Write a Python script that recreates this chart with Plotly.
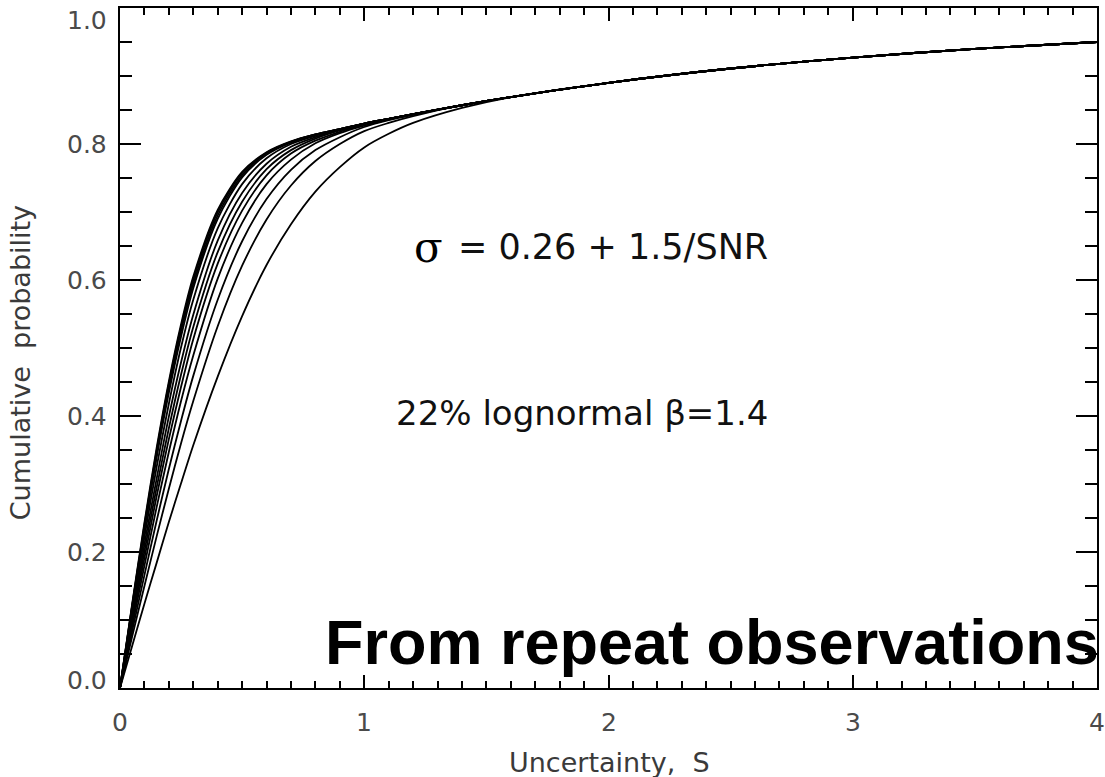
import plotly.graph_objects as go

# Uncertainty grid (S) for the low part of each curve, where the curves differ
s_head = [0, 0.05, 0.1, 0.15, 0.2, 0.25, 0.3, 0.4, 0.5, 0.6, 0.7, 0.8, 0.9, 1.0, 1.1, 1.2, 1.4]
# Shared upper part, where all curves merge into the lognormal tail
s_tail = [1.6, 2.0, 2.5, 3.0, 3.5, 4.0]
p_tail = [0.869, 0.890, 0.911, 0.927, 0.940, 0.950]

# Cumulative probability of each curve on s_head (narrowest to widest)
curve_01 = [0, .124, .243, .353, .451, .535, .605, .703, .759, .788, .804, .814, .822, .830, .837, .844, .857]
curve_02 = [0, .122, .240, .349, .447, .531, .600, .700, .757, .787, .803, .814, .822, .830, .837, .844, .857]
curve_03 = [0, .121, .236, .344, .441, .525, .594, .695, .754, .786, .803, .814, .822, .830, .837, .844, .857]
curve_04 = [0, .118, .232, .339, .434, .517, .588, .690, .751, .784, .802, .813, .822, .830, .837, .844, .857]
curve_05 = [0, .113, .222, .325, .418, .501, .571, .676, .741, .779, .800, .812, .821, .830, .837, .844, .857]
curve_06 = [0, .107, .211, .308, .399, .479, .549, .658, .728, .771, .796, .810, .821, .830, .837, .844, .857]
curve_07 = [0, .102, .201, .295, .382, .461, .531, .641, .715, .763, .791, .808, .820, .829, .837, .844, .857]
curve_08 = [0, .097, .191, .282, .366, .443, .513, .624, .702, .754, .786, .805, .818, .829, .837, .844, .857]
curve_09 = [0, .091, .180, .266, .347, .422, .489, .602, .684, .741, .777, .801, .816, .827, .836, .844, .857]
curve_10 = [0, .084, .166, .246, .322, .393, .459, .571, .657, .719, .762, .791, .810, .825, .835, .843, .857]
curve_11 = [0, .076, .150, .223, .293, .360, .422, .532, .621, .689, .739, .775, .800, .819, .831, .841, .857]
curve_12 = [0, .062, .124, .184, .244, .301, .357, .458, .547, .622, .682, .730, .766, .795, .815, .831, .853]

curves = [curve_01, curve_02, curve_03, curve_04, curve_05, curve_06,
          curve_07, curve_08, curve_09, curve_10, curve_11, curve_12]

x_ticks = [0, 1, 2, 3, 4]
y_ticks = [0.0, 0.2, 0.4, 0.6, 0.8, 1.0]

fig = go.Figure()
for c in curves:
    fig.add_trace(go.Scatter(
        x=s_head + s_tail, y=c + p_tail, mode="lines",
        line=dict(color="black", width=1.8, shape="spline", smoothing=0.8),
        showlegend=False, hoverinfo="skip"))

tick_font = dict(family="DejaVu Sans", size=25, color="#4a4a4a")
title_font = dict(family="DejaVu Sans", size=27, color="#3a3a3a")

fig.update_layout(
    xaxis=dict(range=[0, 4], tickvals=x_ticks,
               ticks="inside", ticklen=13, tickwidth=1.5, tickcolor="black",
               minor=dict(dtick=0.1, ticks="inside", ticklen=7, tickwidth=1.5,
                          tickcolor="black"),
               showline=True, linecolor="black", linewidth=2, mirror="ticks",
               showgrid=False, zeroline=False, showticklabels=False),
    yaxis=dict(range=[0, 1], tickvals=y_ticks,
               ticks="inside", ticklen=21, tickwidth=1.5, tickcolor="black",
               minor=dict(dtick=0.05, ticks="inside", ticklen=12, tickwidth=1.5,
                          tickcolor="black"),
               showline=True, linecolor="black", linewidth=2, mirror="ticks",
               showgrid=False, zeroline=False, showticklabels=False),
)

# x tick labels
for v in x_ticks:
    fig.add_annotation(x=v, y=0, xref="x", yref="paper", text=str(v),
                       showarrow=False, xanchor="center", yanchor="middle",
                       yshift=-34, font=tick_font)

# y tick labels (end labels nudged inside the frame)
y_label_shift = {0.0: 8, 1.0: -12}
for v in y_ticks:
    fig.add_annotation(x=0, y=v, xref="paper", yref="y", text=f"{v:.1f}",
                       showarrow=False, xanchor="right", yanchor="middle",
                       xshift=-11, yshift=y_label_shift.get(v, 0), font=tick_font)

# axis titles
fig.add_annotation(x=0.5015, y=-0.110, xref="paper", yref="paper",
                   text="Uncertainty,  S", showarrow=False,
                   xanchor="center", yanchor="middle", font=title_font)
fig.add_annotation(x=-0.1024, y=0.479, xref="paper", yref="paper",
                   text="Cumulative  probability", showarrow=False, textangle=-90,
                   xanchor="center", yanchor="middle", font=title_font)

# text inside the plot
fig.add_annotation(x=1.265, y=0.648, xref="x", yref="y", text="σ",
                   showarrow=False, xanchor="center", yanchor="middle",
                   font=dict(family="DejaVu Serif", size=42, color="black"))
fig.add_annotation(x=1.375, y=0.648, xref="x", yref="y", text="= 0.26 + 1.5/SNR",
                   showarrow=False, xanchor="left", yanchor="middle",
                   font=dict(family="DejaVu Sans", size=35, color="#111111"))
fig.add_annotation(x=1.120, y=0.405, xref="x", yref="y", text="22% lognormal β=1.4",
                   showarrow=False, xanchor="left", yanchor="middle",
                   font=dict(family="DejaVu Sans", size=34, color="#111111"))
fig.add_annotation(x=0.830, y=0.067, xref="x", yref="y", text="<b>From repeat observations</b>",
                   showarrow=False, xanchor="left", yanchor="middle",
                   font=dict(family="Liberation Sans", size=63, color="black"))

fig.update_layout(
    width=1105, height=777,
    margin=dict(l=120, r=8, t=8, b=89, autoexpand=False),
    paper_bgcolor="white", plot_bgcolor="white")

fig.write_html("out.html")
